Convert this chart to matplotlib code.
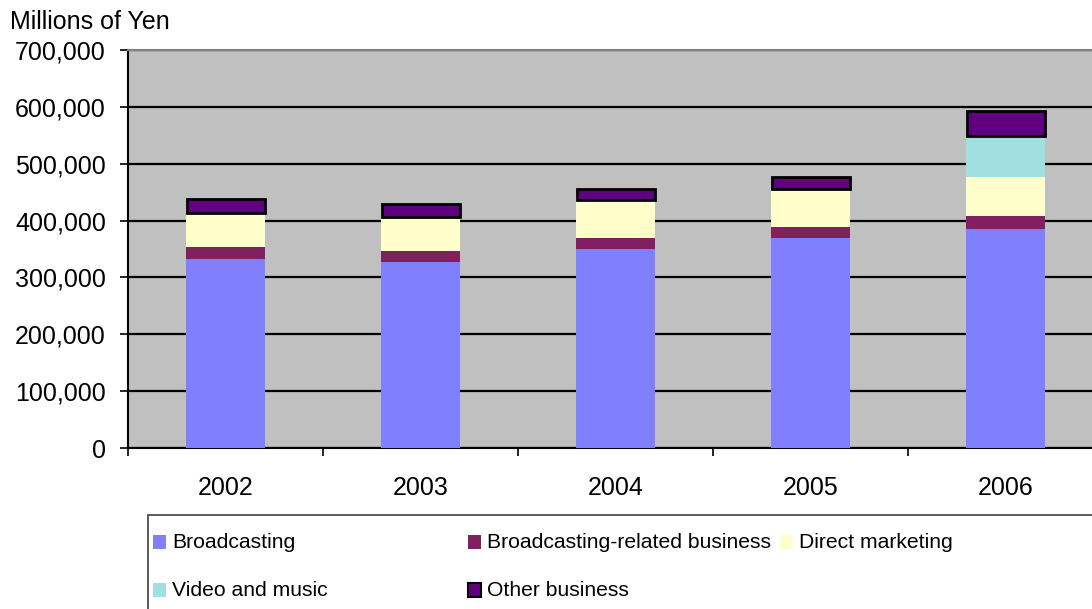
import matplotlib.pyplot as plt
from matplotlib.patches import Rectangle
import numpy as np

plt.rcParams['font.family'] = ['Liberation Sans', 'DejaVu Sans']

# Data (millions of yen)
years = ['2002', '2003', '2004', '2005', '2006']
broadcasting = [333000, 327000, 350000, 369000, 385000]
broadcasting_related = [21000, 20000, 19000, 19500, 23000]
direct_marketing = [60000, 60000, 66500, 67000, 69000]
video_music = [0, 0, 0, 0, 72500]
other_business = [24000, 22000, 20500, 20500, 43000]

series = [
    ('Broadcasting', broadcasting, '#8080FF'),
    ('Broadcasting-related business', broadcasting_related, '#802060'),
    ('Direct marketing', direct_marketing, '#FFFFCC'),
    ('Video and music', video_music, '#A0E0E0'),
    ('Other business', other_business, '#600080'),
]

W, H = 1092, 609
fig = plt.figure(figsize=(W / 100, H / 100), dpi=100)
ax = fig.add_axes([128 / W, (H - 448) / H, 975 / W, 398 / H])
ax.set_facecolor('#C0C0C0')

x = np.arange(len(years))
bottom = np.zeros(len(years))
for name, vals, col in series:
    vals = np.array(vals, dtype=float)
    if name == 'Other business':
        ax.bar(x, vals, 0.4, bottom=bottom, color=col, edgecolor='black', linewidth=2, zorder=3)
    else:
        ax.bar(x, vals, 0.405, bottom=bottom, color=col, linewidth=0, zorder=3)
    bottom += vals

ax.set_xlim(-0.5, len(years) - 0.5)
ax.set_ylim(0, 700000)
ax.set_yticks(range(0, 700001, 100000))
ax.set_yticklabels([f'{v:,}' for v in range(0, 700001, 100000)], fontsize=18)
ax.yaxis.grid(True, color='black', linewidth=1.6, zorder=1)
ax.set_axisbelow(True)

ax.set_xticks(x)
ax.set_xticklabels(years, fontsize=18)
ax.set_xticks(np.arange(-0.5, len(years)), minor=True)
ax.tick_params(axis='x', which='major', length=0, pad=20)
ax.tick_params(axis='x', which='minor', length=6, width=1.2, color='black')
ax.tick_params(axis='y', length=6, width=1.2, pad=10)

ax.spines['top'].set_color('#808080')
ax.spines['top'].set_linewidth(1.5)
ax.spines['right'].set_visible(False)
ax.spines['left'].set_linewidth(1.5)
ax.spines['bottom'].set_linewidth(1.5)

fig.text(10 / W, 1 - 22 / H, 'Millions of Yen', fontsize=18, va='center', ha='left')

# Legend box drawn manually to keep Excel-like layout
fig.patches.append(Rectangle((148 / W, -0.05), 1.0, (H - 515) / H + 0.05,
                             transform=fig.transFigure, facecolor='white',
                             edgecolor='#404040', linewidth=1.2))
col_x = [153, 468, 780]
row_y = [542, 590]
positions = [(0, 0), (1, 0), (2, 0), (0, 1), (1, 1)]
for (name, vals, col), (c, r) in zip(series, positions):
    px, py = col_x[c], row_y[r]
    edge = 'black' if name == 'Other business' else 'none'
    fig.patches.append(Rectangle((px / W, (H - py - 7) / H), 13 / W, 14 / H,
                                 transform=fig.transFigure, facecolor=col,
                                 edgecolor=edge, linewidth=1.5))
    fig.text((px + 19) / W, (H - py) / H, name, fontsize=15.2, va='center', ha='left')

fig.savefig('out.png', dpi=100)
